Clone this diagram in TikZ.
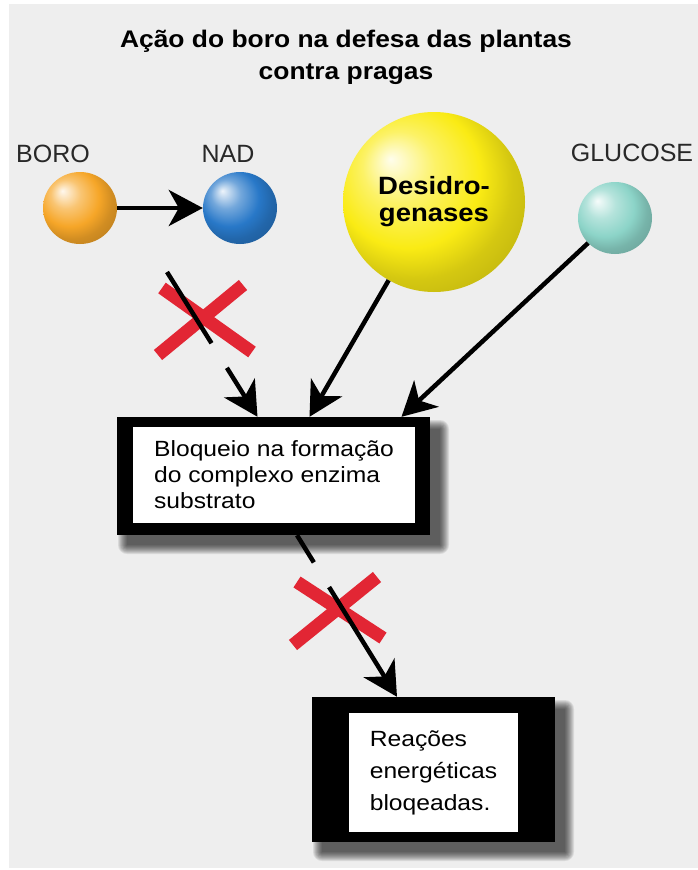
\documentclass[tikz,border=0pt]{standalone}
\usepackage{fontspec}
\setmainfont{Liberation Sans}
\newfontfamily\titlefont[FakeStretch=1.1]{Liberation Sans}
\newfontfamily\boxfont[FakeStretch=1.12]{Liberation Sans}
\usetikzlibrary{shapes.geometric, arrows.meta}

\definecolor{bggray}{RGB}{238,238,238}
\definecolor{boroorange}{RGB}{246,166,40}
\definecolor{nadblue}{RGB}{40,120,200}
\definecolor{desidyellow}{RGB}{250,235,20}
\definecolor{glucteal}{RGB}{140,212,200}
\definecolor{crossred}{RGB}{226,38,52}
\definecolor{lblgray}{RGB}{40,40,40}

\colorlet{glow}{white}
\pgfdeclareradialshading[glow]{glossy}{\pgfqpoint{-12bp}{12bp}}{color(0bp)=(glow!8!white); color(10bp)=(glow!65!white); color(20bp)=(glow); color(27bp)=(glow!85!black); color(50bp)=(glow!60!black)}
\tikzset{glow color/.code={\colorlet{glow}{#1}}}

\tikzstyle{ball} = [ellipse, minimum width=74pt, minimum height=72pt, inner sep=0pt, shading=glossy]
\tikzstyle{lbl} = [font=\fontsize{25}{28}\selectfont, text=lblgray]
\tikzstyle{heading} = [font=\titlefont\bfseries\fontsize{24}{32}\selectfont, align=center, anchor=north, inner sep=0pt]
\tikzstyle{frame} = [rectangle, fill=black, inner sep=0pt]
\tikzstyle{haze} = [black, fill opacity=0.085]
\tikzstyle{textbox} = [rectangle, fill=white, inner sep=0pt, align=left, font=\boxfont\fontsize{22}{26}\selectfont]
\tikzstyle{arrow} = [line width=4.5pt, -{Stealth[length=34pt, width=36pt, inset=10pt]}]
\tikzstyle{cut} = [line width=13pt, crossred]

\begin{document}
\begin{tikzpicture}[x=1pt, y=-1pt]

	\useasboundingbox (0,0) rectangle (698,870);
	\fill[white] (0,0) rectangle (698,870);
	\fill[bggray] (9,4) rectangle (698,868);

	\node (title) [heading] at (346,30) {Ação do boro na defesa das plantas\\contra pragas};

	\node (boro) [ball, glow color=boroorange] at (80,208) {};
	\node (nad) [ball, glow color=nadblue] at (240,208) {};
	\node (desid) [ball, glow color=desidyellow, minimum width=182pt, minimum height=180pt, align=center, font=\titlefont\bfseries\fontsize{25}{27}\selectfont] at (434,202) {Desidro-\\genases};
	\node (gluc) [ball, glow color=glucteal] at (615,218) {};

	\node (borolbl) [lbl] at (53,154) {BORO};
	\node (nadlbl) [lbl] at (228,154) {NAD};
	\node (gluclbl) [lbl] at (632,153) {GLUCOSE};

	% soft shadows under the boxes
	\foreach \e in {0,...,9} {
		\fill[haze, rounded corners=\e pt] (127-\e,429-\e) rectangle (440+\e,545+\e);
		\fill[haze, rounded corners=\e pt] (322-\e,709-\e) rectangle (565+\e,852+\e);
	}

	\node (bloq) [frame, minimum width=313pt, minimum height=118pt] at (273.5,476) {};
	\node (bloqtxt) [textbox, minimum width=282pt, minimum height=96pt] at (274,475) {Bloqueio na formação\\do complexo enzima\\substrato};
	\node (reac) [frame, minimum width=243pt, minimum height=145pt] at (433.5,769.5) {};
	\node (reactxt) [textbox, minimum width=169pt, minimum height=119pt, font=\boxfont\fontsize{22}{32}\selectfont] at (433.5,772.5) {Reações\\energéticas\\bloqeadas.};

	% blocked paths
	\draw [cut] (162,288) -- (252,352);
	\draw [cut] (158,355) -- (243,285);
	\draw [cut] (297,582) -- (383,638);
	\draw [cut] (293,645) -- (377,577);

	\coordinate (nadout) at (167,272);

	\draw [arrow] (boro) -- (nad);
	\draw [arrow, dash pattern=on 84pt off 29pt on 300pt] (nadout) -- ([xshift=-16pt]bloq.north);
	\draw [arrow] (desid) -- ([xshift=36pt]bloq.north);
	\draw [arrow] (gluc) -- ([xshift=128pt]bloq.north);
	\draw [arrow, dash pattern=on 32pt off 29pt on 300pt] ([xshift=23.5pt]bloq.south) -- ([xshift=-36.5pt]reac.north);

\end{tikzpicture}
\end{document}
